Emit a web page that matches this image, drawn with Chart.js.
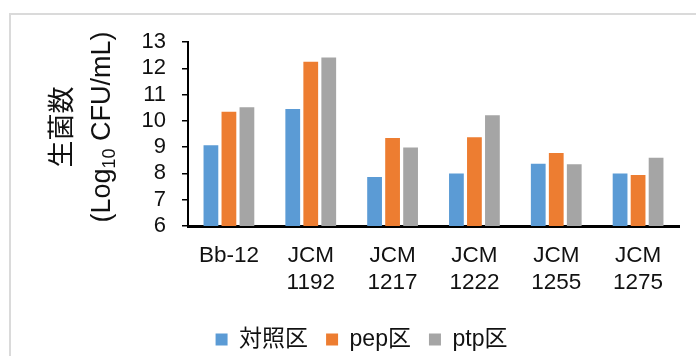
<!DOCTYPE html>
<html>
<head>
<meta charset="utf-8">
<script src="https://cdn.jsdelivr.net/npm/chart.js@4"></script>
<style>
  html, body { margin: 0; padding: 0; background: #fff; }
  #frame { position: absolute; left: 9px; top: 13px; width: 720px; height: 380px;
           border: 2px solid #dadada; box-sizing: border-box; }
  #wrap { position: absolute; left: 0; top: 0; width: 696px; height: 356px; }
</style>
</head>
<body>
<div id="frame"></div>
<div id="wrap"><canvas id="myChart" width="696" height="356"></canvas></div>
<script>
// カテゴリと各区の生菌数 (Log10 CFU/mL)
const categories = [['Bb-12'], ['JCM', '1192'], ['JCM', '1217'], ['JCM', '1222'], ['JCM', '1255'], ['JCM', '1275']];
const seriesNames = ['対照区', 'pep区', 'ptp区'];
const controlValues = [9.07, 10.45, 7.86, 8.0, 8.37, 8.0];
const pepValues = [10.35, 12.25, 9.35, 9.38, 8.78, 7.94];
const ptpValues = [10.52, 12.41, 8.99, 10.21, 8.35, 8.6];
const yTicks = [6, 7, 8, 9, 10, 11, 12, 13];

const FONT = '"Liberation Sans", Arial, "Noto Sans CJK JP", sans-serif';

// 縦軸タイトル（下付き文字つき）
const yTitlePlugin = {
  id: 'yTitle',
  afterDraw(chart) {
    const ctx = chart.ctx;
    const cy = 127;
    ctx.save();
    ctx.fillStyle = '#111';
    ctx.textBaseline = 'middle';
    ctx.textAlign = 'left';

    // 1行目
    ctx.save();
    ctx.translate(64, cy);
    ctx.rotate(-Math.PI / 2);
    ctx.font = '27px ' + FONT;
    const w1 = ctx.measureText('生菌数').width;
    ctx.fillText('生菌数', -w1 / 2, 0);
    ctx.restore();

    // 2行目
    ctx.save();
    ctx.translate(103, cy);
    ctx.rotate(-Math.PI / 2);
    const parts = [
      { t: '(Log', f: '27px ' + FONT, dy: 0 },
      { t: '10', f: '18px ' + FONT, dy: 7 },
      { t: ' CFU/mL)', f: '27px ' + FONT, dy: 0 }
    ];
    let total = 0;
    parts.forEach(p => { ctx.font = p.f; p.w = ctx.measureText(p.t).width; total += p.w; });
    let x = -total / 2;
    parts.forEach(p => { ctx.font = p.f; ctx.fillText(p.t, x, p.dy); x += p.w; });
    ctx.restore();

    ctx.restore();
  }
};

const ctx = document.getElementById('myChart').getContext('2d');
new Chart(ctx, {
  type: 'bar',
  data: {
    labels: categories,
    datasets: [
      { label: seriesNames[0], data: controlValues, backgroundColor: '#5b9bd5' },
      { label: seriesNames[1], data: pepValues, backgroundColor: '#ed7d31' },
      { label: seriesNames[2], data: ptpValues, backgroundColor: '#a5a5a5' }
    ]
  },
  options: {
    responsive: false,
    animation: false,
    layout: { padding: { left: 44, right: 17, top: 42, bottom: -5 } },
    datasets: {
      bar: { categoryPercentage: 0.66, barPercentage: 0.82 }
    },
    scales: {
      x: {
        grid: { display: false },
        border: { color: '#000', width: 3 },
        ticks: { color: '#111', font: { family: FONT, size: 22.5, lineHeight: 1.2 }, padding: 8, maxRotation: 0, autoSkip: false },
        afterFit(scale) { scale.height = 84; }
      },
      y: {
        min: 6,
        max: 13,
        afterBuildTicks(scale) { scale.ticks = yTicks.map(v => ({ value: v })); },
        grid: { display: true, drawOnChartArea: false, drawTicks: true, tickLength: 6, color: '#000', lineWidth: 1.5 },
        border: { color: '#000', width: 2 },
        ticks: { color: '#111', font: { family: FONT, size: 22 }, padding: 16, autoSkip: false },
        afterFit(scale) { scale.width = 144; }
      }
    },
    plugins: {
      legend: {
        position: 'bottom',
        labels: {
          color: '#111',
          font: { family: FONT, size: 23 },
          boxWidth: 12,
          boxHeight: 12,
          padding: 18
        }
      },
      tooltip: { enabled: false }
    }
  },
  plugins: [yTitlePlugin]
});
</script>
</body>
</html>
